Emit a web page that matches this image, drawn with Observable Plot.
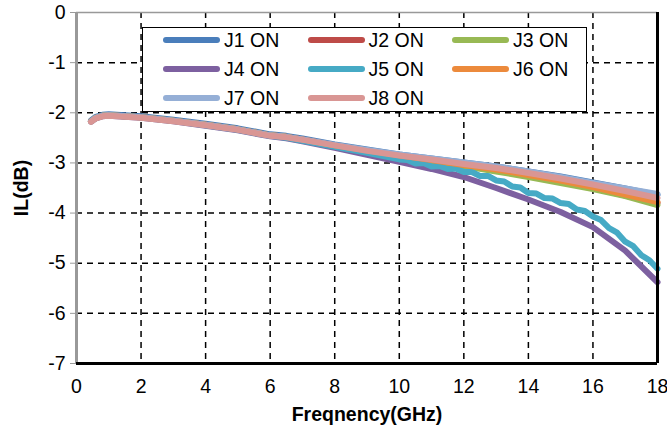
<!DOCTYPE html>
<html>
<head>
<meta charset="utf-8">
<script src="https://cdn.jsdelivr.net/npm/d3@7"></script>
<script src="https://cdn.jsdelivr.net/npm/@observablehq/plot@0.6"></script>
<style>
  html, body { margin: 0; padding: 0; background: #fff; }
  #wrap { position: relative; width: 667px; height: 434px; font-family: "Liberation Sans", Arial, sans-serif; }
  #legend { position: absolute; left: 142px; top: 27px; width: 443px; height: 83px; border: 1.5px solid #000; background: #fff; box-sizing: content-box; }
  .item { position: absolute; display: flex; align-items: center; font-size: 19.5px; color: #000; height: 22px; }
  .sw { width: 57px; height: 6px; border-radius: 3px; margin-right: 4px; }
</style>
</head>
<body>
<div id="wrap"></div>
<script>
// ---- data ----
const seriesNames = ["J1 ON","J2 ON","J3 ON","J4 ON","J5 ON","J6 ON","J7 ON","J8 ON"];
const seriesColors = ["#4A7EBB","#BE4B48","#98B954","#7D60A0","#46AAC5","#EC8A3C","#95AFD6","#D99694"];

const freq = [0.45,0.6,0.8,1,1.5,2,3,4,5,6,6.5,7,8,9,10,11,12,13,14,15,16,17,18];
const j1 = [-2.15,-2.08,-2.04,-2.03,-2.05,-2.07,-2.14,-2.22,-2.31,-2.43,-2.46,-2.51,-2.63,-2.73,-2.83,-2.91,-2.99,-3.07,-3.17,-3.27,-3.39,-3.51,-3.64];
const j2 = [-2.17,-2.10,-2.06,-2.05,-2.07,-2.09,-2.16,-2.24,-2.33,-2.45,-2.48,-2.53,-2.65,-2.76,-2.86,-2.95,-3.05,-3.15,-3.26,-3.38,-3.50,-3.65,-3.80];
const j3 = [-2.17,-2.10,-2.06,-2.05,-2.07,-2.09,-2.16,-2.24,-2.33,-2.45,-2.48,-2.54,-2.66,-2.77,-2.87,-2.96,-3.06,-3.17,-3.28,-3.40,-3.52,-3.66,-3.84];
const j4 = [-2.18,-2.11,-2.07,-2.06,-2.08,-2.10,-2.17,-2.26,-2.35,-2.47,-2.51,-2.57,-2.70,-2.84,-2.98,-3.12,-3.28,-3.50,-3.73,-3.98,-4.28,-4.75,-5.38];
const j6 = [-2.17,-2.10,-2.06,-2.05,-2.07,-2.09,-2.16,-2.24,-2.33,-2.45,-2.48,-2.53,-2.65,-2.75,-2.85,-2.94,-3.04,-3.13,-3.24,-3.35,-3.48,-3.63,-3.78];
const j7 = [-2.17,-2.10,-2.06,-2.05,-2.07,-2.09,-2.16,-2.24,-2.33,-2.45,-2.48,-2.53,-2.64,-2.74,-2.83,-2.91,-2.99,-3.07,-3.17,-3.28,-3.40,-3.51,-3.62];
const j8 = [-2.18,-2.11,-2.07,-2.06,-2.08,-2.10,-2.17,-2.25,-2.34,-2.46,-2.49,-2.54,-2.65,-2.76,-2.85,-2.93,-3.02,-3.10,-3.20,-3.31,-3.43,-3.56,-3.70];

const freq5 = [0.45,0.6,0.8,1,1.5,2,3,4,5,6,6.5,7,8,9,10,10.25,10.5,10.75,11,11.25,11.5,11.75,12,12.25,12.5,12.75,13,13.25,13.5,13.75,14,14.25,14.5,14.75,15,15.25,15.5,15.75,16,16.25,16.5,16.75,17,17.25,17.5,17.75,18];
const j5 = [-2.17,-2.10,-2.06,-2.05,-2.07,-2.09,-2.16,-2.25,-2.34,-2.46,-2.50,-2.56,-2.68,-2.80,-2.93,-2.94,-3.01,-3.00,-3.07,-3.06,-3.12,-3.11,-3.18,-3.18,-3.26,-3.26,-3.35,-3.37,-3.47,-3.49,-3.60,-3.61,-3.70,-3.71,-3.80,-3.82,-3.93,-3.96,-4.07,-4.14,-4.30,-4.39,-4.57,-4.66,-4.84,-4.94,-5.11];

const xTicks = [0,2,4,6,8,10,12,14,16,18];
const yTicks = [0,-1,-2,-3,-4,-5,-6,-7];

// ---- table ----
const seriesVals = [j1,j2,j3,j4,j5,j6,j7,j8];
const rows = [];
seriesVals.forEach((vals, i) => {
  const fs = i === 4 ? freq5 : freq;
  vals.forEach((v, k) => rows.push({series: seriesNames[i], f: fs[k], il: v}));
});

const font = '"Liberation Sans", Arial, sans-serif';
const chart = Plot.plot({
  width: 667,
  height: 434,
  marginLeft: 76,
  marginRight: 10,
  marginTop: 12,
  marginBottom: 71,
  style: {fontFamily: font, fontSize: "19.5px", color: "#000", background: "#fff"},
  x: {domain: [0, 18], ticks: xTicks},
  y: {domain: [-7, 0], ticks: yTicks},
  color: {domain: seriesNames, range: seriesColors},
  marks: [
    Plot.gridY(yTicks.filter(d => d !== 0 && d !== -7), {stroke: "#000", strokeOpacity: 1, strokeWidth: 1.5, strokeDasharray: "6,5"}),
    Plot.gridX(xTicks.filter(d => d !== 0 && d !== 18), {stroke: "#000", strokeOpacity: 1, strokeWidth: 1.5, strokeDasharray: "6,5"}),
    Plot.axisY(yTicks, {tickSize: 6, tickPadding: 5, stroke: "#999", tickFormat: d => d === 0 ? "0" : String(d).replace("−","-"), label: "IL(dB)", labelAnchor: "center", labelArrow: "none", labelOffset: 62}),
    Plot.axisX(xTicks, {tickSize: 0, tickPadding: 16, label: "Freqnency(GHz)", labelAnchor: "center", labelArrow: "none", labelOffset: 57}),
    Plot.lineY(rows, {x: "f", y: "il", z: "series", stroke: "series", strokeWidth: 6, strokeLinecap: "round", strokeLinejoin: "round", curve: "linear"}),
    Plot.ruleY([0], {stroke: "#999", strokeWidth: 1.5}),
    Plot.ruleX([0], {stroke: "#999", strokeWidth: 3}),
    Plot.ruleX([18], {stroke: "#000", strokeWidth: 3}),
    Plot.ruleY([-7], {stroke: "#000", strokeWidth: 3})
  ]
});
chart.querySelectorAll("[aria-label='y-axis label'] text, [aria-label='x-axis label'] text").forEach(t => t.setAttribute("font-weight", "bold"));
const wrap = document.getElementById("wrap");
wrap.appendChild(chart);

// legend overlay
const legend = document.createElement("div");
legend.id = "legend";
seriesNames.forEach((name, i) => {
  const col = i % 3, row = Math.floor(i / 3);
  const it = document.createElement("div");
  it.className = "item";
  it.style.left = (20 + col * 144.5) + "px";
  it.style.top = (1 + row * 29) + "px";
  const sw = document.createElement("div");
  sw.className = "sw";
  sw.style.background = seriesColors[i];
  it.appendChild(sw);
  const tx = document.createElement("span");
  tx.textContent = name;
  it.appendChild(tx);
  legend.appendChild(it);
});
wrap.appendChild(legend);
</script>
</body>
</html>
